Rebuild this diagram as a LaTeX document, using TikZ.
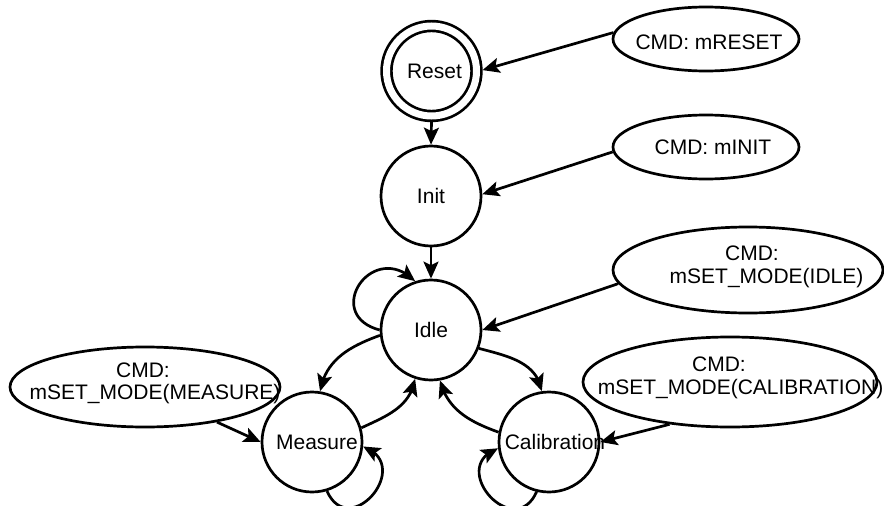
\documentclass[tikz,border=0pt]{standalone}
\usepackage{fontspec}
\setmainfont{Liberation Sans}
\usetikzlibrary{arrows.meta,shapes.geometric,bending}
\begin{document}
\begin{tikzpicture}[x=1pt,y=1pt,
  every node/.style={font=\fontsize{21}{22.5}\selectfont},
  state/.style={circle,draw,line width=2.7pt,minimum size=100pt,inner sep=0pt},
  cmd/.style={ellipse,draw,line width=2.7pt,inner sep=0pt},
  lbl/.style={align=center,inner sep=0pt},
  conn/.style={line width=2.7pt,-{Stealth[length=17pt,width=15pt,inset=3.5pt]}}
]
\useasboundingbox (0,0) rectangle (884,-506);

% states
\node[state,double,double distance=7pt,minimum size=90pt,outer sep=6pt] (reset) at (431.5,-71) {\makebox[0pt]{\hspace{6pt}Reset}};
\node[state] (init) at (431,-196) {\makebox[0pt]{Init}};
\node[state] (idle) at (431,-330) {\makebox[0pt]{Idle}};
\node[state] (measure) at (312,-442) {\makebox[0pt]{\hspace{10pt}Measure}};
\node[state] (calib) at (549,-442) {\makebox[0pt]{\hspace{12pt}Calibration}};

% command ellipses
\node[cmd,minimum width=186pt,minimum height=64pt] (ereset) at (706,-39) {};
\node[lbl] (treset) at (709,-42.5) {CMD: mRESET};
\node[cmd,minimum width=186pt,minimum height=64pt] (einit) at (706,-147) {};
\node[lbl] (tinit) at (713,-147.5) {CMD: mINIT};
\node[cmd,minimum width=270pt,minimum height=86pt] (eidle) at (748,-270) {};
\node[lbl] (tidle) at (752,-267) {CMD:\\\hspace{29pt}mSET\_MODE(IDLE)};
\node[cmd,minimum width=270pt,minimum height=80pt] (emeas) at (145,-387) {};
\node[lbl] (tmeas) at (143,-383.5) {CMD:\\\hspace{24pt}mSET\_MODE(MEASURE)};
\node[cmd,minimum width=294pt,minimum height=90pt] (ecal) at (730,-382) {};
\node[lbl] (tcal) at (719,-378) {CMD:\\\hspace{43pt}mSET\_MODE(CALIBRATION)};

% straight transitions
\draw[conn] (reset.south) -- (init.north);
\draw[conn] (init.south) -- (idle.north);
\draw[conn] (ereset.176) -- (reset.1);
\draw[conn] (einit.183) -- (init.2);
\draw[conn] (eidle.186) -- (idle.east);
\draw[conn] (emeas.-26) -- (measure.west);
\draw[conn] (ecal.215) -- (calib.east);

% self loops
\draw[conn] (idle.180) to[out=165,in=135,distance=60pt] (idle.108);
\draw[conn] (measure.-73) to[out=-66,in=-20,distance=55pt] (measure.-5);
\draw[conn] (calib.-104) to[out=-114,in=-160,distance=55pt] (calib.187);

% curved transitions
\draw[conn] (idle.186) to[out=200,in=80] (measure.81);
\draw[conn] (measure.16) to[out=25,in=-100] (idle.-108);
\draw[conn] (idle.-21) to[out=-15,in=100] (calib.98);
\draw[conn] (calib.169) to[out=160,in=-75] (idle.-80);
\end{tikzpicture}
\end{document}
